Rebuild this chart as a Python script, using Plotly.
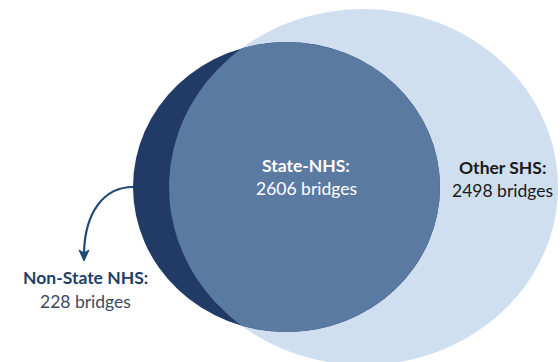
import numpy as np
import plotly.graph_objects as go

# Bridge counts by system group
groups = ["Non-State NHS:", "State-NHS:", "Other SHS:"]
bridges = [228, 2606, 2498]

W, H = 560, 362

# Ellipse outlines (pixel space): NHS and SHS
nhs = dict(x0=133, x1=440, y0=42, y1=332)
shs = dict(x0=169, x1=558, y0=9, y1=365)

C_SHS = "#cfdff0"
C_NHS = "#213a66"
C_BOTH = "#5b7aa1"


def params(e):
    cx = (e["x0"] + e["x1"]) / 2
    cy = (e["y0"] + e["y1"]) / 2
    rx = (e["x1"] - e["x0"]) / 2
    ry = (e["y1"] - e["y0"]) / 2
    return cx, cy, rx, ry


def inside(e, x, y):
    cx, cy, rx, ry = params(e)
    return ((x - cx) / rx) ** 2 + ((y - cy) / ry) ** 2 <= 1.0


def arc(e, t):
    cx, cy, rx, ry = params(e)
    return cx + rx * np.cos(t), cy + ry * np.sin(t)


# Overlap region: right arc of NHS inside SHS, then left arc of SHS inside NHS
t1 = np.linspace(-np.pi, np.pi, 4000)
ax_, ay_ = arc(nhs, t1)
m1 = inside(shs, ax_, ay_)
t2 = np.linspace(0, 2 * np.pi, 4000)
bx_, by_ = arc(shs, t2)
m2 = inside(nhs, bx_, by_)
lens_x = np.concatenate([ax_[m1], bx_[m2]])
lens_y = np.concatenate([ay_[m1], by_[m2]])

fig = go.Figure()
fig.add_trace(go.Scatter(
    x=lens_x, y=lens_y, mode="lines", fill="toself",
    fillcolor=C_BOTH, line=dict(width=0, color=C_BOTH),
    hoverinfo="skip", showlegend=False,
))

shapes = [
    dict(type="circle", xref="x", yref="y", layer="below",
         fillcolor=C_SHS, line=dict(width=0), **shs),
    dict(type="circle", xref="x", yref="y", layer="below",
         fillcolor=C_NHS, line=dict(width=0), **nhs),
    # curved pointer from the NHS crescent to its label
    dict(type="path", xref="x", yref="y", layer="above",
         path="M 133,187 C 104,187 85,212 84,253",
         line=dict(color="#1f4a78", width=2.2)),
    dict(type="path", xref="x", yref="y", layer="above",
         path="M 84,261 L 79,250 L 84,253 L 89,250 Z",
         fillcolor="#1f4a78", line=dict(color="#1f4a78", width=1)),
]

FONT = "Lato"
SIZE = 17.5
label_pos = [(85, 277, 301), (306, 165, 188), (502, 167, 190)]
title_colors = ["#1f3f66", "#ffffff", "#1a1a1a"]
value_colors = ["#3b4a60", "#ffffff", "#1a1a1a"]

annotations = []
for name, n, (x, yt, yv), ct, cv in zip(groups, bridges, label_pos, title_colors, value_colors):
    annotations.append(dict(
        x=x, y=yt, xref="x", yref="y", text=f"<b>{name}</b>", showarrow=False,
        font=dict(family=FONT, size=SIZE, color=ct), xanchor="center", yanchor="middle"))
    annotations.append(dict(
        x=x, y=yv, xref="x", yref="y", text=f"{n} bridges", showarrow=False,
        font=dict(family=FONT, size=SIZE, color=cv), xanchor="center", yanchor="middle"))

fig.update_layout(
    width=W, height=H,
    margin=dict(l=0, r=0, t=0, b=0),
    paper_bgcolor="white", plot_bgcolor="white",
    xaxis=dict(range=[0, W], visible=False, fixedrange=True),
    yaxis=dict(range=[H, 0], visible=False, fixedrange=True),
    shapes=shapes, annotations=annotations,
    showlegend=False,
)

fig.write_html("out.html")
